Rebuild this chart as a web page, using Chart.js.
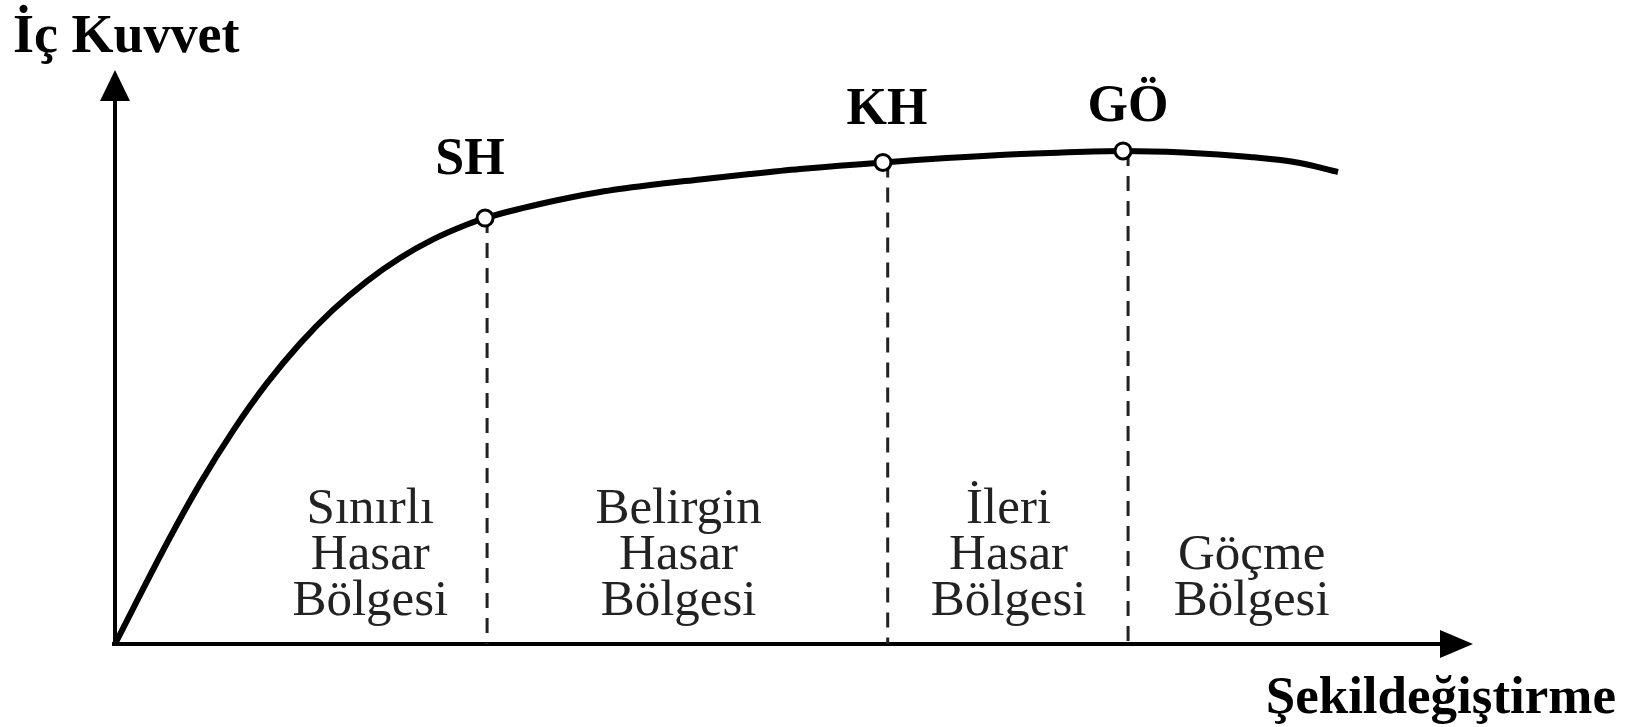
<!DOCTYPE html>
<html>
<head>
<meta charset="utf-8">
<title>İç Kuvvet - Şekildeğiştirme</title>
<script src="https://cdn.jsdelivr.net/npm/chart.js@4.4.0/dist/chart.umd.min.js"></script>
<style>
  html, body { margin: 0; padding: 0; background: #fff; }
  canvas { display: block; }
</style>
</head>
<body>
<canvas id="myChart" width="1626" height="727"></canvas>
<script>
// egri: sekildegistirme (x) ve ic kuvvet (y), 0-100 birim
const deformation = [0, 3.83, 6.26, 8.69, 11.19, 13.62, 16.05, 18.56, 20.99, 23.42, 25.92, 27.25, 31.3, 35.71, 39.4, 43.08, 46.76, 50.44, 56.55, 65.17, 68.85, 74.23, 78.65, 83.58, 87.26, 90.06];
const force = [0, 17.6, 27.94, 37.14, 45.44, 52.33, 58.21, 63.24, 67.26, 70.49, 73.08, 74.2, 76.66, 78.75, 79.96, 80.93, 81.88, 82.75, 83.9, 85.19, 85.54, 85.9, 85.63, 84.84, 83.8, 82.23];

// performans noktalari
const pointNames = ['SH', 'KH', 'GÖ'];
const pointDeform = [27.25, 56.55, 74.23];
const pointForce = [74.2, 83.9, 85.9];
// kesikli cizgilerin x degerleri
const dropDeform = [27.4, 56.9, 74.6];

// bolge etiketleri
const zoneLines = [
    ['Sınırlı', 'Hasar', 'Bölgesi'],
    ['Belirgin', 'Hasar', 'Bölgesi'],
    ['İleri', 'Hasar', 'Bölgesi'],
    ['Göçme', 'Bölgesi']
];
const zoneX = [18.8, 41.5, 65.8, 83.7];

const axisTitleY = 'İç Kuvvet';
const axisTitleX = 'Şekildeğiştirme';

const serif = '"Liberation Serif", "Times New Roman", serif';

// assi e testi disegnati a mano
const sketchPlugin = {
    id: 'sketch',
    beforeDatasetsDraw(chart) {
        const ctx = chart.ctx;
        const a = chart.chartArea;
        ctx.save();
        ctx.strokeStyle = '#000';
        ctx.fillStyle = '#000';
        ctx.lineWidth = 4;
        // asse y
        ctx.beginPath();
        ctx.moveTo(a.left, a.bottom + 2);
        ctx.lineTo(a.left, a.top + 28);
        ctx.stroke();
        ctx.beginPath();
        ctx.moveTo(a.left, a.top);
        ctx.lineTo(a.left - 15, a.top + 31);
        ctx.lineTo(a.left + 15, a.top + 31);
        ctx.closePath();
        ctx.fill();
        // asse x
        ctx.beginPath();
        ctx.moveTo(a.left - 3, a.bottom);
        ctx.lineTo(a.right - 30, a.bottom);
        ctx.stroke();
        ctx.beginPath();
        ctx.moveTo(a.right, a.bottom);
        ctx.lineTo(a.right - 33, a.bottom - 14);
        ctx.lineTo(a.right - 33, a.bottom + 14);
        ctx.closePath();
        ctx.fill();
        ctx.restore();
    },
    afterDraw(chart) {
        const ctx = chart.ctx;
        const xs = chart.scales.x;
        const ys = chart.scales.y;
        ctx.save();
        ctx.fillStyle = '#000';
        ctx.textBaseline = 'alphabetic';

        // titoli assi
        ctx.font = 'bold 54px ' + serif;
        ctx.textAlign = 'left';
        ctx.fillText(axisTitleY, 13, 52);
        ctx.font = 'bold 53px ' + serif;
        ctx.textAlign = 'right';
        ctx.fillText(axisTitleX, 1616, 713);

        // etichette punti
        const offsets = [[-15, -44], [4, -38], [5, -30]];
        ctx.font = 'bold 52px ' + serif;
        ctx.textAlign = 'center';
        for (let i = 0; i < pointNames.length; i++) {
            let px = xs.getPixelForValue(pointDeform[i]) + offsets[i][0];
            let py = ys.getPixelForValue(pointForce[i]) + offsets[i][1];
            ctx.fillText(pointNames[i], px, py);
        }

        // etichette zone
        ctx.font = '51px ' + serif;
        ctx.fillStyle = '#222';
        const bottomLine = ys.getPixelForValue(5);
        for (let i = 0; i < zoneLines.length; i++) {
            let lines = zoneLines[i];
            let px = xs.getPixelForValue(zoneX[i]);
            for (let j = 0; j < lines.length; j++) {
                let py = bottomLine - (lines.length - 1 - j) * 46;
                ctx.fillText(lines[j], px, py);
            }
        }
        ctx.restore();
    }
};

const curveData = deformation.map((d, i) => ({ x: d, y: force[i] }));
const markerData = pointDeform.map((d, i) => ({ x: d, y: pointForce[i] }));

const dropSets = dropDeform.map((d, i) => ({
    data: [{ x: d, y: pointForce[i] }, { x: d, y: 0 }],
    showLine: true,
    borderColor: '#222',
    borderWidth: 3,
    borderDash: [15, 10],
    pointRadius: 0,
    order: 3,
}));

const chart = new Chart(document.getElementById('myChart').getContext('2d'), {
    type: 'scatter',
    data: {
        datasets: [{
            data: markerData,
            showLine: false,
            pointRadius: 8,
            pointBorderWidth: 3,
            pointBackgroundColor: '#fff',
            pointBorderColor: '#000',
            order: 0,
        }, {
            data: curveData,
            showLine: true,
            borderColor: '#000',
            borderWidth: 6,
            pointRadius: 0,
            cubicInterpolationMode: 'monotone',
            order: 1,
        }, ...dropSets]
    },
    options: {
        responsive: false,
        animation: false,
        layout: {
            padding: { left: 115, right: 153, top: 70, bottom: 83 }
        },
        scales: {
            x: { type: 'linear', min: 0, max: 100, display: false },
            y: { type: 'linear', min: 0, max: 100, display: false },
        },
        plugins: {
            legend: { display: false },
            tooltip: { enabled: false },
        },
    },
    plugins: [sketchPlugin]
});
</script>
</body>
</html>
